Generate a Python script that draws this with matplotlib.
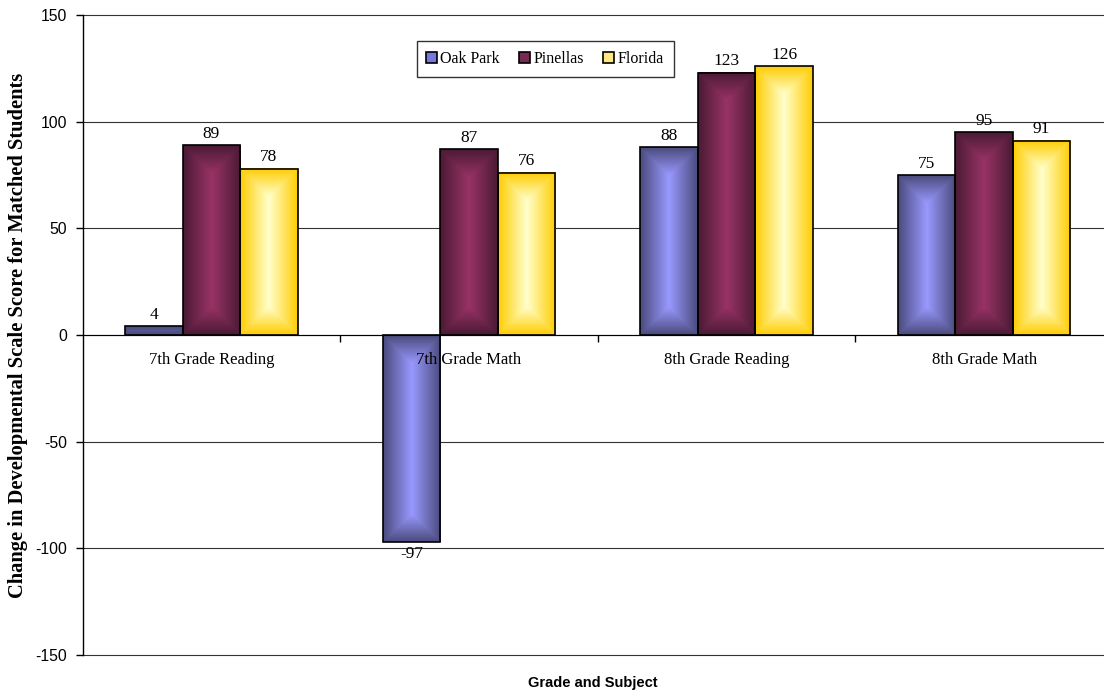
import numpy as np
import matplotlib
matplotlib.use("Agg")
import matplotlib.pyplot as plt
from matplotlib.patches import Rectangle
from matplotlib.colors import to_rgb

categories = ["7th Grade Reading", "7th Grade Math", "8th Grade Reading", "8th Grade Math"]
series_names = ["Oak Park", "Pinellas", "Florida"]
oak_park = [4, -97, 88, 75]
pinellas = [89, 87, 123, 95]
florida = [78, 76, 126, 91]
y_ticks = [-150, -100, -50, 0, 50, 100, 150]

series_values = [oak_park, pinellas, florida]
edge_cols = ["#4a4a7c", "#4a1a34", "#ffcc00"]
center_cols = ["#9999ff", "#993366", "#ffffcc"]
legend_cols = ["#7777dd", "#7a2a50", "#ffe680"]

W, H = 1104, 692
fig = plt.figure(figsize=(W / 100, H / 100), dpi=100)
ax = fig.add_axes([82.7 / W, 37 / H, (1113 - 82.7) / W, (655 - 15) / H])

SERIF = "Liberation Serif"
SANS = "Liberation Sans"

ax.set_xlim(0, len(categories))
ax.set_ylim(-150, 150)
for s in ["top", "right"]:
    ax.spines[s].set_visible(False)
ax.spines["bottom"].set_position(("data", 0))
ax.spines["bottom"].set_zorder(5)
ax.spines["left"].set_linewidth(1.0)

ax.set_yticks(y_ticks)
ax.set_yticklabels([str(v) for v in y_ticks], fontname=SANS, fontsize=11.3)
ax.tick_params(axis="y", length=5, width=1, pad=6)
ax.yaxis.grid(True, color="#333333", linewidth=0.8)
ax.set_axisbelow(True)

ax.set_xticks(np.arange(len(categories)) + 0.5)
ax.set_xticklabels(categories, fontname=SERIF, fontsize=12)
ax.tick_params(axis="x", which="major", length=0, pad=12)
ax.set_xticks(np.arange(1, len(categories)), minor=True)
ax.tick_params(axis="x", which="minor", length=5, width=1, direction="out")
ax.xaxis.set_zorder(6)

bar_w = 0.223
group_offsets = [-1, 0, 1]

fig.canvas.draw()
for gl in ax.get_ygridlines():
    gl.set_clip_on(False)
px_per_x = ax.bbox.width / len(categories)
px_per_y = ax.bbox.height / 300.0


def grad_img(c0, c1, wpx, hpx):
    nx = max(int(round(wpx)), 2)
    ny = max(int(round(hpx)), 2)
    xs = (np.arange(nx) + 0.5) - nx / 2
    ys = (np.arange(ny) + 0.5) - ny / 2
    X, Y = np.meshgrid(xs, ys)
    hw, hh = nx / 2, ny / 2
    d = np.minimum(hw - np.abs(X), hh - np.abs(Y))
    t = np.clip(d / hw, 0, 1)
    c0 = np.array(to_rgb(c0))
    c1 = np.array(to_rgb(c1))
    img = c0[None, None, :] * (1 - t[..., None]) + c1[None, None, :] * t[..., None]
    return img


for si, vals in enumerate(series_values):
    for ci, v in enumerate(vals):
        x0 = ci + 0.5 + (group_offsets[si] - 0.5) * bar_w
        x1 = x0 + bar_w
        y0, y1 = min(0, v), max(0, v)
        img = grad_img(edge_cols[si], center_cols[si], bar_w * px_per_x, (y1 - y0) * px_per_y)
        ax.imshow(img, extent=[x0, x1, y0, y1], aspect="auto", origin="lower",
                  interpolation="bilinear", zorder=2)
        ax.add_patch(Rectangle((x0, y0), bar_w, y1 - y0, facecolor="none",
                               edgecolor="black", linewidth=1.2, zorder=3))
        if v >= 0:
            ax.annotate(str(v), (x0 + bar_w / 2, v), xytext=(0, 2.5), textcoords="offset points",
                        ha="center", va="bottom", fontname=SERIF, fontsize=12.5, zorder=7)
        else:
            ax.annotate(str(v), (x0 + bar_w / 2, v), xytext=(0, -3), textcoords="offset points",
                        ha="center", va="top", fontname=SERIF, fontsize=12.5, zorder=7)

ax.set_xlim(0, len(categories))
ax.set_ylim(-150, 150)

handles = [Rectangle((0, 0), 1, 1, facecolor=legend_cols[i], edgecolor="black", linewidth=1.2)
           for i in range(3)]
leg = ax.legend(handles, series_names, loc="center", bbox_to_anchor=(545 / W, (692 - 59) / H),
                bbox_transform=fig.transFigure, ncol=3, frameon=True, fancybox=False,
                edgecolor="black", prop={"family": SERIF, "size": 11.5},
                handlelength=0.7, handleheight=0.7, handletextpad=0.2, columnspacing=1.2,
                borderpad=0.6)
leg.get_frame().set_linewidth(1.0)
leg.set_zorder(10)

fig.text(18 / W, (H - 335) / H, "Change in Developmental Scale Score for Matched Students",
         rotation=90, ha="center", va="center", fontname=SERIF, fontweight="bold", fontsize=14.8)
fig.text(593 / W, (692 - 683) / H, "Grade and Subject", ha="center", va="center",
         fontname=SANS, fontweight="bold", fontsize=10.5)

fig.savefig("out.png", dpi=100)
